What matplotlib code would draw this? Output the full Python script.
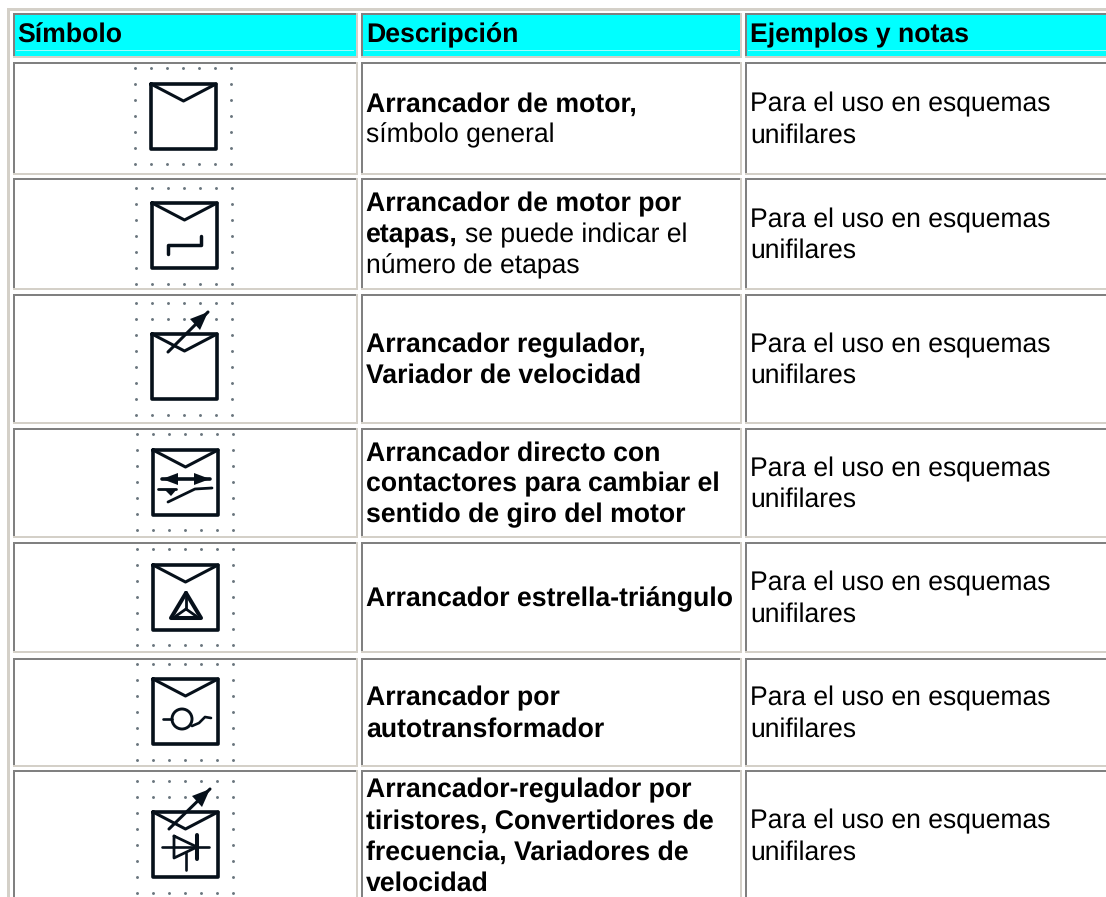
import matplotlib
matplotlib.use("Agg")
import matplotlib.pyplot as plt
from matplotlib.patches import Rectangle, Polygon, Circle

plt.rcParams['font.family'] = ['Liberation Sans', 'DejaVu Sans']
plt.rcParams['text.hinting'] = 'no_hinting'

headers = ["Símbolo", "Descripción", "Ejemplos y notas"]

# (bold part, regular part) per line
descriptions = [
    [("Arrancador de motor,", ""), ("", "símbolo general")],
    [("Arrancador de motor por", ""), ("etapas,", "se puede indicar el"), ("", "número de etapas")],
    [("Arrancador regulador,", ""), ("Variador de velocidad", "")],
    [("Arrancador directo con", ""), ("contactores para cambiar el", ""), ("sentido de giro del motor", "")],
    [("Arrancador estrella-triángulo", "")],
    [("Arrancador por", ""), ("autotransformador", "")],
    [("Arrancador-regulador por", ""), ("tiristores, Convertidores de", ""),
     ("frecuencia, Variadores de", ""), ("velocidad", "")],
]
notes = ["Para el uso en esquemas", "unifilares"]

# layout in pixels
W, H = 1106, 897
col_left = [13, 361, 745]
col_right = [358, 742, 1112]
row_top = [62, 178, 294, 428, 542, 658, 770]
row_bottom = [175, 290, 424, 538, 653, 767, 901]
text_x = [17, 366, 750]
fs = 19.1
fs_bold = 19.2
line_h = 31
GRAY = "#808080"
LIGHT = "#d4d0c8"
INK = "#06101a"

# top-left dot of every symbol grid, rows of dots, box corner
dot_origin = [(135, 68), (136, 188), (136, 303), (137, 434), (137, 549), (137, 664), (137, 781)]
dot_rows = [7, 7, 8, 7, 7, 7, 8]
box_origin = [(151, 84), (152, 203), (152, 334), (153, 450), (153, 565), (153, 679), (153, 812)]
box_size = 65
dot_step = 16

fig = plt.figure(figsize=(W / 100, H / 100), dpi=100, facecolor="white")
ax = fig.add_axes([0, 0, 1, 1])
ax.set_xlim(0, W)
ax.set_ylim(H, 0)
ax.axis("off")


def rect(x0, y0, x1, y1, color, z=1):
    ax.add_patch(Rectangle((x0, y0), x1 - x0, y1 - y0, facecolor=color, edgecolor="none", zorder=z))


def cell(x0, y0, x1, y1, fill):
    # sunken look: dark top/left, light bottom/right
    rect(x0, y0, x1, y1, LIGHT)
    rect(x0, y0, x1 - 2, y1 - 2, GRAY, 1.1)
    rect(x0 + 2, y0 + 2, x1 - 2, y1 - 2, fill, 1.2)


# outer table frame
rect(7, 8, W + 5, 11, LIGHT)
rect(7, 8, 10, H + 5, LIGHT)

for c in range(3):
    cell(col_left[c], 13, col_right[c], 58, "#00ffff")
    ax.plot([col_left[c] + 3, col_right[c] - 5], [50.5, 50.5], color="#9ffcfc", lw=0.7, zorder=2)
    ax.text(text_x[c], 42.5, headers[c], fontsize=fs_bold, fontweight="bold", va="baseline", ha="left", color="black", zorder=3)
    for r in range(7):
        cell(col_left[c], row_top[r], col_right[c], row_bottom[r], "white")

fig.canvas.draw()
renderer = fig.canvas.get_renderer()

for r in range(7):
    mid = (row_top[r] + row_bottom[r]) / 2
    lines = descriptions[r]
    y0 = mid - line_h * (len(lines) - 1) / 2 + 8.7
    for i, (bold, regular) in enumerate(lines):
        x = text_x[1]
        y = y0 + i * line_h
        if bold:
            t = ax.text(x, y, bold, fontsize=fs_bold, fontweight="bold", va="baseline", ha="left", color="black", zorder=3)
            x = t.get_window_extent(renderer).x1 + 7.4
        if regular:
            ax.text(x, y, regular, fontsize=fs, va="baseline", ha="left", color="black", zorder=3)
    for i, note in enumerate(notes):
        ax.text(text_x[2], mid + (i - 0.5) * line_h + 8.7, note, fontsize=fs, va="baseline", ha="left", color="black", zorder=3)


def stroke(ox, oy, pts, lw=1.8):
    ax.plot([ox + p[0] for p in pts], [oy + p[1] for p in pts], color=INK, lw=lw,
            solid_capstyle="round", solid_joinstyle="round", zorder=4)


def fill(ox, oy, pts):
    ax.add_patch(Polygon([(ox + p[0], oy + p[1]) for p in pts], closed=True, facecolor=INK, edgecolor="none", zorder=4))


def regulator_arrow(ox, oy, start, tip):
    stroke(ox, oy, [start, tip], 2.2)
    fill(ox, oy, [tip, (tip[0] - 18, tip[1] + 7), (tip[0] - 8, tip[1] + 18)])


for r in range(7):
    dx, dy = dot_origin[r]
    ox, oy = box_origin[r]
    s = box_size
    for i in range(7):
        for j in range(dot_rows[r]):
            px, py = dx + i * dot_step, dy + j * dot_step
            # the grid only shows outside the box
            if ox - 4 < px < ox + s + 4 and oy - 4 < py < oy + s + 4:
                continue
            ax.plot(px, py, marker="o", ms=2.1, mfc="#6a767e", mec="none", zorder=3)
    stroke(ox, oy, [(0, 0), (s, 0), (s, s), (0, s), (0, 0)], 2.6)
    stroke(ox, oy, [(0, 0), (s / 2, 17), (s, 0)], 2.2)

# extra marks inside each symbol, relative to its box
ox, oy = box_origin[1]
stroke(ox, oy, [(16, 51), (16, 42), (49, 42), (49, 33)], 2.5)

ox, oy = box_origin[2]
regulator_arrow(ox, oy, (16, 18), (56, -22))

ox, oy = box_origin[3]
stroke(ox, oy, [(9, 29), (57, 29)], 2.6)
fill(ox, oy, [(9, 29), (25, 23), (25, 35)])
fill(ox, oy, [(57, 29), (41, 23), (41, 35)])
stroke(ox, oy, [(5, 39), (23, 39)], 2.0)
fill(ox, oy, [(11, 39), (24, 39), (18, 46)])
stroke(ox, oy, [(15, 52), (42, 39), (59, 38)], 2.0)

ox, oy = box_origin[4]
stroke(ox, oy, [(33, 28), (18, 53), (48, 53), (33, 28)], 2.9)
stroke(ox, oy, [(33, 32), (33, 44)], 2.0)
stroke(ox, oy, [(33, 44), (23, 51)], 2.0)
stroke(ox, oy, [(33, 44), (43, 51)], 2.0)

ox, oy = box_origin[5]
ax.add_patch(Circle((ox + 29, oy + 40), 10, facecolor="none", edgecolor=INK, lw=2.1, zorder=4))
stroke(ox, oy, [(10, 40), (19, 40)], 1.9)
stroke(ox, oy, [(39, 47), (46, 44), (52, 38), (58, 39)], 1.9)

ox, oy = box_origin[6]
regulator_arrow(ox, oy, (16, 17), (57, -23))
stroke(ox, oy, [(9, 35), (56, 35)], 1.9)
stroke(ox, oy, [(21, 24), (21, 46), (44, 35), (21, 24)], 2.0)
stroke(ox, oy, [(44, 23), (44, 47)], 2.9)
stroke(ox, oy, [(33, 41), (33, 58)], 1.9)

fig.savefig("out.png", dpi=100, facecolor="white")
